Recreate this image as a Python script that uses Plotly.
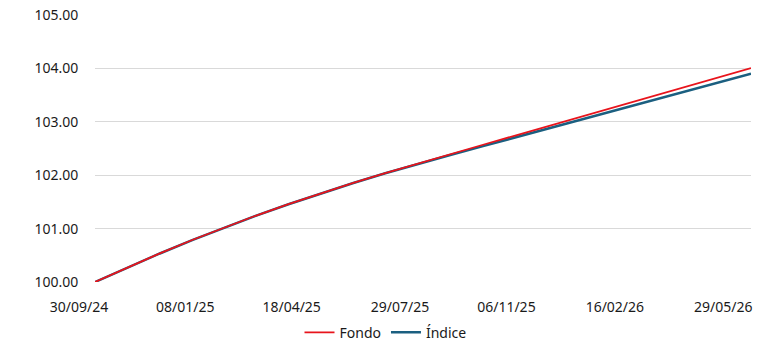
import plotly.graph_objects as go

# Month-end valuation dates and base-100 performance of the fund and its index
dates = [
    "2024-09-30", "2024-10-31", "2024-11-30", "2024-12-31", "2025-01-31",
    "2025-02-28", "2025-03-31", "2025-04-30", "2025-05-31", "2025-06-30",
    "2025-07-31", "2025-08-31", "2025-09-30", "2025-10-31", "2025-11-30",
    "2025-12-31", "2026-01-31", "2026-02-28", "2026-03-31", "2026-04-30",
    "2026-05-31", "2026-06-09",
]
fondo = [
    100.000, 100.279, 100.537, 100.791, 101.033,
    101.240, 101.457, 101.658, 101.856, 102.039,
    102.222, 102.399, 102.570, 102.747, 102.918,
    103.095, 103.272, 103.431, 103.608, 103.779,
    103.956, 104.005,
]
indice = [
    100.000, 100.276, 100.534, 100.788, 101.030,
    101.237, 101.455, 101.656, 101.854, 102.036,
    102.214, 102.382, 102.544, 102.712, 102.874,
    103.043, 103.211, 103.362, 103.530, 103.692,
    103.861, 103.900,
]

tick_dates = ["2024-09-30", "2025-01-08", "2025-04-18", "2025-07-29",
              "2025-11-06", "2026-02-16", "2026-05-29"]
tick_text = ["30/09/24", "08/01/25", "18/04/25", "29/07/25",
             "06/11/25", "16/02/26", "29/05/26"]
y_ticks = [100, 101, 102, 103, 104, 105]
y_text = ["100.00", "101.00", "102.00", "103.00", "104.00", "105.00"]

RED = "#e8141c"
BLUE = "#1b5f80"
FONT = "Noto Sans"

fig = go.Figure()
fig.add_trace(go.Scatter(
    x=dates, y=indice, name="Índice", mode="lines",
    line=dict(color=BLUE, width=2.5),
))
fig.add_trace(go.Scatter(
    x=dates, y=fondo, name="Fondo", mode="lines",
    line=dict(color=RED, width=1.8),
))

fig.update_layout(
    width=771, height=344,
    margin=dict(l=95, r=20, t=15, b=62, autoexpand=False),
    paper_bgcolor="white", plot_bgcolor="white",
    font=dict(family=FONT, size=14, color="#1a1a1a"),
    showlegend=True,
    legend=dict(
        orientation="h", traceorder="reversed",
        xref="container", x=0.5, xanchor="center",
        y=-0.19, yanchor="middle",
        font=dict(family=FONT, size=14, color="#1a1a1a"),
        itemwidth=30, tracegroupgap=0,
    ),
    xaxis=dict(
        type="date", automargin=False,
        range=[dates[0], dates[-1]],
        tickvals=tick_dates, ticktext=tick_text,
        ticklabelshift=-16,
        showgrid=False, zeroline=False, showline=False,
        ticks="outside", ticklen=12, tickcolor="rgba(0,0,0,0)",
    ),
    yaxis=dict(
        range=[100, 105], automargin=False,
        tickvals=y_ticks, ticktext=y_text,
        showgrid=True, gridcolor="#d9d9d9", gridwidth=1,
        zeroline=False, showline=False,
        ticks="outside", ticklen=13, tickcolor="rgba(0,0,0,0)",
    ),
)

fig.write_html("out.html")
